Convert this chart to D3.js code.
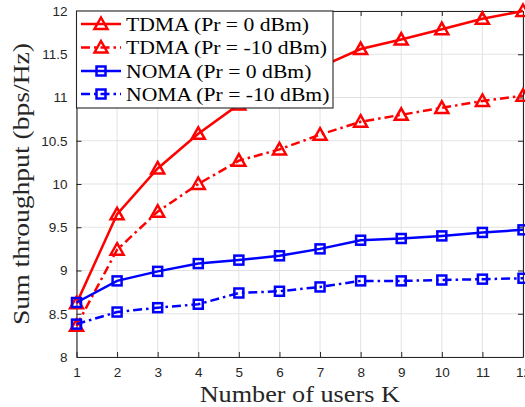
<!DOCTYPE html>
<html>
<head>
<meta charset="utf-8">
<script src="https://cdn.jsdelivr.net/npm/d3@7"></script>
<style>
  body { margin: 0; background: #fff; }
  svg { display: block; }
</style>
</head>
<body>
<svg id="viz" width="525" height="407"></svg>
<script>
// users K
var users = [1, 2, 3, 4, 5, 6, 7, 8, 9, 10, 11, 12];

var tdma_0 = [8.62, 9.65, 10.18, 10.58, 10.92, 11.15, 11.35, 11.56, 11.67, 11.79, 11.91, 12.0];
var tdma_10 = [8.36, 9.24, 9.68, 10.0, 10.27, 10.40, 10.57, 10.72, 10.80, 10.88, 10.96, 11.02];
var noma_0 = [8.63, 8.88, 8.99, 9.08, 9.12, 9.17, 9.25, 9.35, 9.37, 9.40, 9.44, 9.47];
var noma_10 = [8.38, 8.52, 8.57, 8.61, 8.74, 8.76, 8.81, 8.88, 8.88, 8.89, 8.90, 8.91];

var y_ticks = [8, 8.5, 9, 9.5, 10, 10.5, 11, 11.5, 12];
var series_names = ["TDMA (Pr = 0 dBm)", "TDMA (Pr = -10 dBm)", "NOMA (Pr = 0 dBm)", "NOMA (Pr = -10 dBm)"];

var series = [
    {name: series_names[0], values: tdma_0, color: "#ff0000", dash: null, marker: "tri"},
    {name: series_names[1], values: tdma_10, color: "#ff0000", dash: "9,4,2.5,4", marker: "tri"},
    {name: series_names[2], values: noma_0, color: "#0000ff", dash: null, marker: "sq"},
    {name: series_names[3], values: noma_10, color: "#0000ff", dash: "9,4,2.5,4", marker: "sq"}
];

var svg = d3.select("#viz");
var m_left = 76.5, m_right = 523, m_top = 11, m_bottom = 357;

var x = d3.scaleLinear().domain([1, 12]).range([m_left, m_right]);
var y = d3.scaleLinear().domain([8, 12]).range([m_bottom, m_top]);

// grid
svg.append("g").selectAll("line").data(users).enter().append("line")
    .attr("x1", function(d) { return x(d); }).attr("x2", function(d) { return x(d); })
    .attr("y1", m_top).attr("y2", m_bottom)
    .style("stroke", "#e3e3e3").style("stroke-width", 1);
svg.append("g").selectAll("line").data(y_ticks).enter().append("line")
    .attr("x1", m_left).attr("x2", m_right)
    .attr("y1", function(d) { return y(d); }).attr("y2", function(d) { return y(d); })
    .style("stroke", "#e3e3e3").style("stroke-width", 1);

// axes
var xAxis = svg.append("g").attr("transform", "translate(0," + m_bottom + ")")
    .call(d3.axisBottom(x).tickValues(users).tickSizeInner(-5).tickSizeOuter(0).tickPadding(10));
var yAxis = svg.append("g").attr("transform", "translate(" + m_left + ",0)")
    .call(d3.axisLeft(y).tickValues(y_ticks).tickFormat(d3.format("")).tickSizeInner(-5).tickSizeOuter(0).tickPadding(9));
var xTop = svg.append("g").attr("transform", "translate(0," + m_top + ")")
    .call(d3.axisTop(x).tickValues(users).tickSizeInner(-5).tickSizeOuter(0).tickFormat(""));
var yRight = svg.append("g").attr("transform", "translate(" + m_right + ",0)")
    .call(d3.axisRight(y).tickValues(y_ticks).tickSizeInner(-5).tickSizeOuter(0).tickFormat(""));

[xAxis, yAxis, xTop, yRight].forEach(function(a) {
    a.selectAll("path").style("stroke", "#262626").style("stroke-width", 1.1);
    a.selectAll("line").style("stroke", "#262626");
    a.selectAll("text").style("font-family", "Liberation Sans, Arial, sans-serif")
        .style("font-size", "13.5px").style("fill", "#262626");
});

// lines + markers
var line = d3.line()
    .x(function(d, i) { return x(users[i]); })
    .y(function(d) { return y(d); });

function draw_marker(g, type, color) {
    if (type == "tri") {
        g.append("path").attr("d", "M0,-6.5L6.5,5L-6.5,5Z")
            .style("fill", "none").style("stroke", color).style("stroke-width", 2.5)
            .style("stroke-linejoin", "miter");
    } else {
        g.append("rect").attr("x", -4.5).attr("y", -4.5).attr("width", 9).attr("height", 9)
            .style("fill", "none").style("stroke", color).style("stroke-width", 2.5);
    }
}

series.forEach(function(s) {
    svg.append("path").datum(s.values)
        .attr("d", line)
        .style("fill", "none").style("stroke", s.color).style("stroke-width", 2.5)
        .style("stroke-dasharray", s.dash);
    s.values.forEach(function(v, i) {
        var g = svg.append("g").attr("transform", "translate(" + x(users[i]) + "," + y(v) + ")");
        draw_marker(g, s.marker, s.color);
    });
});

// stretch serif text horizontally so it is as wide as the LaTeX font in the original
function stretch(t, cx, cy, factor, rot) {
    t.attr("transform", "translate(" + cx + "," + cy + ")" + (rot ? " rotate(-90)" : "") + " scale(" + factor + ",1)");
}

// legend
var lg = svg.append("g");
lg.append("rect").attr("x", m_left).attr("y", m_top).attr("width", 333 - m_left).attr("height", 108 - m_top)
    .style("fill", "#fff").style("stroke", "#262626").style("stroke-width", 1.1);
var rows_y = [24, 47.5, 71, 94];
series.forEach(function(s, i) {
    var ry = rows_y[i];
    lg.append("line").attr("x1", 81).attr("x2", 121).attr("y1", ry).attr("y2", ry)
        .style("stroke", s.color).style("stroke-width", 2.5).style("stroke-dasharray", s.dash);
    var g = lg.append("g").attr("transform", "translate(101," + ry + ")");
    draw_marker(g, s.marker, s.color);
    var t = lg.append("text").attr("x", 0).attr("y", 0)
        .text(s.name)
        .style("font-family", "Liberation Serif, serif").style("font-size", "19px").style("fill", "#000");
    stretch(t, 126, ry + 6.5, 1.14, false);
});

// axis labels
var xl = svg.append("text")
    .attr("text-anchor", "middle")
    .text("Number of users K")
    .style("font-family", "Liberation Serif, serif").style("font-size", "23px").style("fill", "#262626");
stretch(xl, (m_left + m_right) / 2, 402, 1.14, false);
var yl = svg.append("text")
    .attr("text-anchor", "middle")
    .text("Sum throughput (bps/Hz)")
    .style("font-family", "Liberation Serif, serif").style("font-size", "23px").style("fill", "#262626");
stretch(yl, 29, (m_top + m_bottom) / 2, 1.2, true);
</script>
</body>
</html>
